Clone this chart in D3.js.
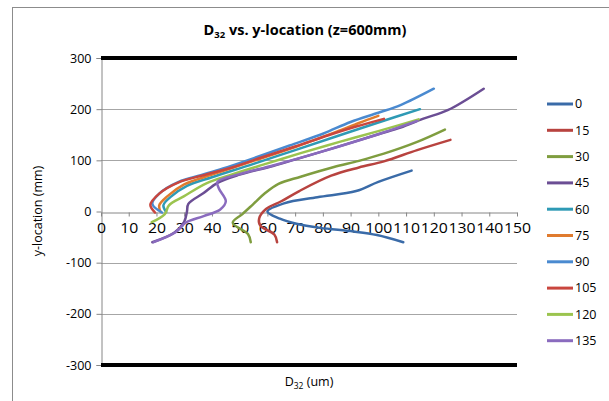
<!DOCTYPE html>
<html>
<head>
<meta charset="utf-8">
<script src="https://cdn.jsdelivr.net/npm/d3@7"></script>
<style>
body { margin: 0; background: #fff; }
text { font-family: "Open Sans", "Noto Sans", sans-serif; fill: #000; }
</style>
</head>
<body>
<svg id="svg"></svg>
<script>
var width = 609, height = 401;

// series names (legend)
var seriesNames = ["0", "15", "30", "45", "60", "75", "90", "105", "120", "135"];
var seriesColors = ["#3A6BA8", "#B8433F", "#7F9D3F", "#6B4E94", "#2E9AB5",
	"#E07B2E", "#4A8AD0", "#C9463E", "#9BC44F", "#8A6BBE"];

// [D32 (um), y-location (mm)]
var s0 = [[109,-60],[99.5,-46],[91,-39],[79,-32],[70.5,-24],[64.5,-14],[60,0],[66,16],[78,28],[92,40],[100,58],[112,80]];
var s15 = [[63.5,-60],[62.5,-45],[57.5,-28],[57,-14],[59.5,5],[65,20],[71.5,40],[83,70],[93,86],[102,98],[114,120],[126,140]];
var s30 = [[54,-60],[53,-44],[47.5,-22],[51,-5],[55,15],[59,35],[64,54],[72,68],[84,87],[93,99],[102,113],[114,136],[124,160]];
var s45 = [[18.5,-60],[26.5,-41],[30,-20],[31,0],[31.5,15],[37,36],[42,56],[50,72],[62,89],[79,116],[100,151],[108,164],[116,181],[125,198],[138,240]];
var s60 = [[23.5,-1],[22.5,12],[25,28],[31,50],[40,67],[55,93],[70,120],[85,147],[100,174],[115,200]];
var s75 = [[21.5,-1],[21,12],[24,30],[30,53],[40,72],[55,99],[70,126],[85,156],[93,173],[100,187]];
var s90 = [[22,-2],[18.5,15],[21,35],[28,58],[36,71],[44,84],[56,106],[68,129],[80,152],[90,175],[100,193],[108,208],[120,240]];
var s105 = [[19.5,-2],[17.8,13],[21,35],[28,57],[37,71],[46,84],[57,104],[70,127],[82,149],[92,166],[102,181]];
var s120 = [[18.3,-21],[23,-5],[24.5,12],[30,30],[38,55],[47,72],[60,94],[72,114],[86,136],[100,157],[114.5,180]];
var s135 = [[19,-60],[27,-40],[30.5,-22],[37,-9],[43,4],[45,20],[42.5,45],[42,58],[50,73],[62,90],[79,116],[100,151],[114,177]];

var allSeries = [s0, s15, s30, s45, s60, s75, s90, s105, s120, s135];

var xTicks = [0, 10, 20, 30, 40, 50, 60, 70, 80, 90, 100, 110, 120, 130, 140, 150];
var yTicks = [-300, -200, -100, 0, 100, 200, 300];

var svg = d3.select("#svg")
	.attr("width", width)
	.attr("height", height);

// chart border
svg.append("rect")
	.attr("x", 12.5).attr("y", 7.5)
	.attr("width", 700).attr("height", 500)
	.attr("fill", "none")
	.attr("stroke", "#8c8c8c");

var x = d3.scaleLinear().domain([0, 150]).range([101, 517]);
var y = d3.scaleLinear().domain([-300, 300]).range([365, 58]);

// gridlines
svg.append("g")
	.selectAll("line")
	.data(yTicks.filter(function(d) { return d != 0 && Math.abs(d) != 300; }))
	.enter().append("line")
	.attr("x1", x(0)).attr("x2", x(150))
	.attr("y1", function(d) { return Math.round(y(d)) + 0.5; })
	.attr("y2", function(d) { return Math.round(y(d)) + 0.5; })
	.attr("stroke", "#a6a6a6");

// y axis
var yAxis = d3.axisLeft(y).tickValues(yTicks).tickSize(5).tickPadding(6)
	.tickFormat(function(d) { return String(d); });
var gy = svg.append("g")
	.attr("transform", "translate(" + (x(0) + 0.5) + ",0)")
	.call(yAxis);
gy.select(".domain").attr("stroke", "#868686");
gy.selectAll(".tick line").attr("stroke", "#868686");
gy.selectAll(".tick text")
	.style("font-family", "'Open Sans'")
	.style("font-size", "12.5px")
	.attr("x", -10);

// thick black lines at +-300
svg.append("g")
	.selectAll("line")
	.data([300, -300])
	.enter().append("line")
	.attr("x1", x(0)).attr("x2", x(150))
	.attr("y1", function(d) { return y(d); })
	.attr("y2", function(d) { return y(d); })
	.attr("stroke", "#000")
	.attr("stroke-width", 4);

// x axis crossing at y = 0
var xAxis = d3.axisBottom(x).tickValues(xTicks).tickSize(4).tickSizeOuter(0).tickPadding(7)
	.tickFormat(function(d) { return String(d); });
var gx = svg.append("g")
	.attr("transform", "translate(0," + (Math.round(y(0)) + 0.5) + ")")
	.call(xAxis);
gx.select(".domain").attr("stroke", "#868686");
gx.selectAll(".tick line").attr("stroke", "#868686");
gx.selectAll(".tick text")
	.style("font-family", "'Open Sans'")
	.style("font-size", "14px")
	.attr("transform", "scale(1.13,1)")
	.attr("x", 0);

// series
var line = d3.line()
	.x(function(d) { return x(d[0]); })
	.y(function(d) { return y(d[1]); })
	.curve(d3.curveCatmullRom.alpha(0.5));

for (var i in allSeries) {
	svg.append("path")
		.attr("fill", "none")
		.attr("stroke", seriesColors[i])
		.attr("stroke-width", 2.5)
		.attr("stroke-linejoin", "round")
		.attr("stroke-linecap", "round")
		.attr("d", line(allSeries[i]));
}

// legend
var legend = svg.append("g").attr("class", "legend");
legend.selectAll("line")
	.data(seriesNames)
	.enter().append("line")
	.attr("x1", 547).attr("x2", 573)
	.attr("y1", function(d, i) { return 104 + i * 26.3; })
	.attr("y2", function(d, i) { return 104 + i * 26.3; })
	.attr("stroke", function(d, i) { return seriesColors[i]; })
	.attr("stroke-width", 3);
legend.selectAll("text")
	.data(seriesNames)
	.enter().append("text")
	.attr("x", 575)
	.attr("y", function(d, i) { return 104 + i * 26.3; })
	.attr("dy", "0.35em")
	.attr("font-size", "12.5px")
	.text(function(d) { return d; });

// title
var title = svg.append("text")
	.attr("x", 305).attr("y", 35)
	.attr("text-anchor", "middle")
	.attr("font-size", "14.5px")
	.attr("font-weight", "bold");
title.append("tspan").text("D");
title.append("tspan").attr("font-size", "9.5px").attr("dy", 3).text("32");
title.append("tspan").attr("dy", -3).text(" vs. y-location (z=600mm)");

// axis titles
var xt = svg.append("text")
	.attr("x", 309).attr("y", 386)
	.attr("text-anchor", "middle")
	.attr("font-size", "12.5px");
xt.append("tspan").text("D");
xt.append("tspan").attr("font-size", "8.5px").attr("dy", 3).text("32");
xt.append("tspan").attr("dy", -3).text(" (um)");

svg.append("text")
	.attr("transform", "translate(42,211) rotate(-90)")
	.attr("text-anchor", "middle")
	.attr("font-size", "12.5px")
	.text("y-location (mm)");
</script>
</body>
</html>
